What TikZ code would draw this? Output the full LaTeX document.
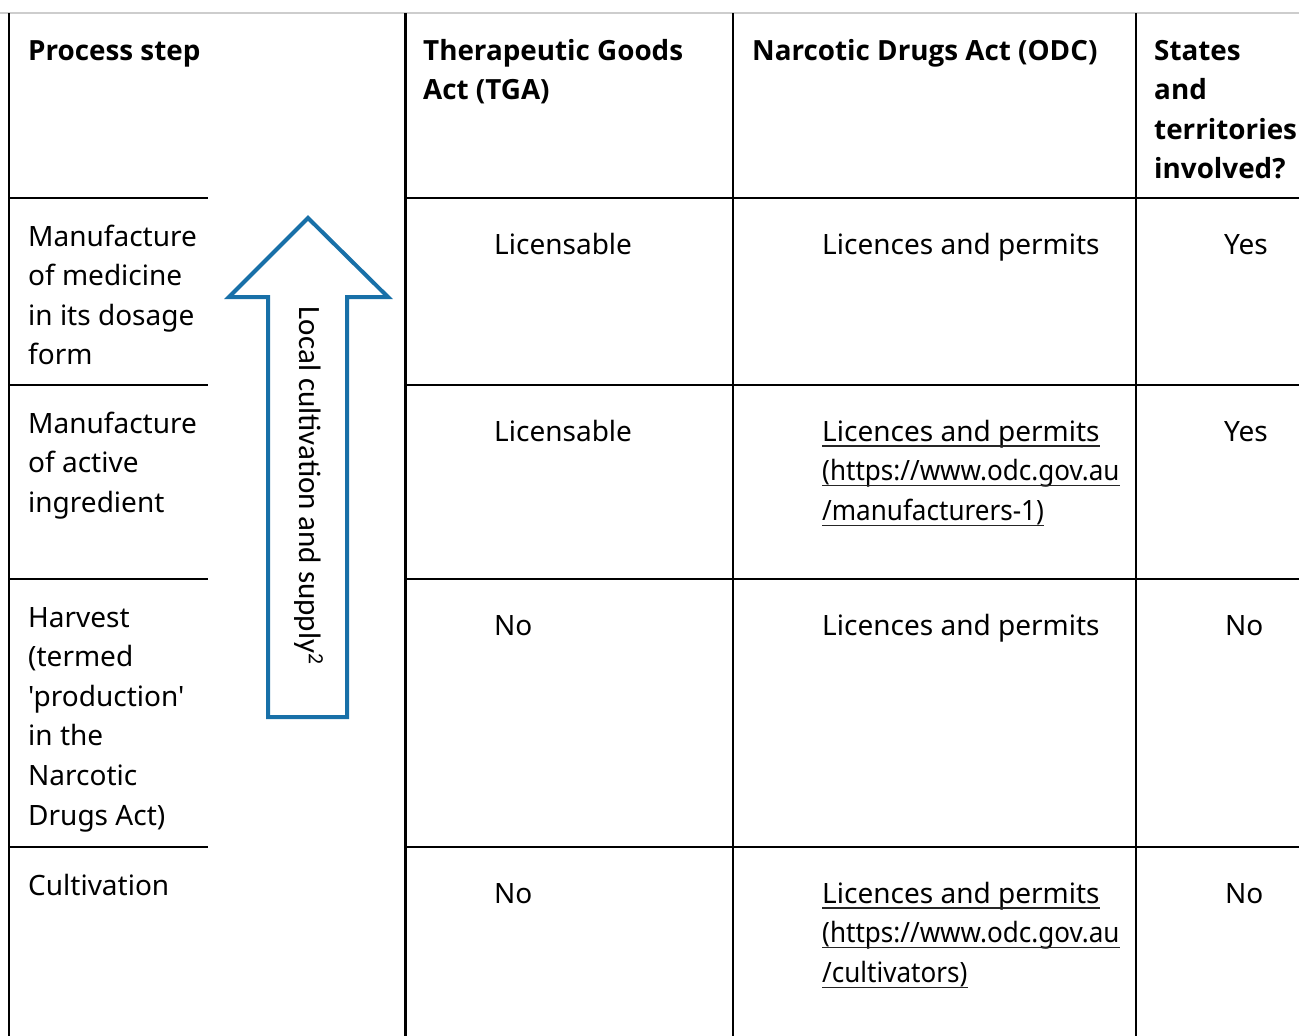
\documentclass[tikz,border=0pt]{standalone}
\usepackage{fontspec}
\setmainfont{Noto Sans}[Ligatures=TeXOff]
\newfontfamily\hdrfont{Open Sans}
\newfontfamily\arrowfont{Carlito}
\definecolor{arrowblue}{RGB}{24,112,168}
\definecolor{topgrey}{RGB}{205,205,205}
\newcommand{\narrowlink}[1]{\scalebox{0.93}[1]{#1}}
\begin{document}
\begin{tikzpicture}[x=1pt,y=-1pt,
  txt/.style={anchor=base west, inner sep=0pt, font=\fontsize{28}{39.6}\selectfont},
  hdr/.style={anchor=base west, inner sep=0pt, font=\hdrfont\fontsize{27.8}{39.6}\selectfont\bfseries},
  grid/.style={line width=2pt, black},
  thick grid/.style={line width=3pt, black},
  ul/.style={line width=1.3pt, black!85},
  arrowshape/.style={draw=arrowblue, line width=4pt, line join=miter, fill=white}]
\useasboundingbox (0,0) rectangle (1299,1036);
% frame
\coordinate (tl) at (0,13); \coordinate (tr) at (1299,13);
\draw[topgrey, line width=1.5pt] (tl) -- (tr);
\draw[grid, line width=2.5pt] (9,13) -- (9,1036);
\draw[thick grid] (405,13) -- (405,1036);
\draw[grid] (733,13) -- (733,1036);
\draw[grid] (1136,13) -- (1136,1036);
\foreach \yy in {198,385,579,847} {
  \draw[grid] (9,\yy) -- (208,\yy);
  \draw[grid] (405,\yy) -- (1299,\yy);
}
% headers
\node[hdr] (hps) at (28,60) {Process step};
\node[hdr] (htga1) at (423,60) {Therapeutic Goods};
\node[hdr] (htga2) at (423,99.6) {Act (TGA)};
\node[hdr] (hodc) at (752,60) {Narcotic Drugs Act (ODC)};
\foreach \t [count=\i from 0] in {{States},{and},{territories},{involved?}}
  \node[hdr] (hst\i) at (1154,60+39.6*\i) {\t};
% left column
\foreach \t [count=\i from 0] in {{Manufacture},{of medicine},{in its dosage},{form}}
  \node[txt] (pa\i) at (28,246+39.6*\i) {\t};
\foreach \t [count=\i from 0] in {{Manufacture},{of active},{ingredient}}
  \node[txt] (pb\i) at (28,433+39.6*\i) {\t};
\foreach \t [count=\i from 0] in {{Harvest},{(termed},{'production'},{in the},{Narcotic},{Drugs Act)}}
  \node[txt] (pc\i) at (28,627+39.6*\i) {\t};
\node[txt] (pd0) at (28,895) {Cultivation};
% TGA column
\node[txt] (ta) at (494,254) {Licensable};
\node[txt] (tb) at (494,441) {Licensable};
\node[txt] (tc) at (494,635) {No};
\node[txt] (td) at (494,903) {No};
% ODC column
\node[txt] (oa) at (822,254) {Licences and permits};
\foreach \t [count=\i from 0] in {{Licences and permits},{\narrowlink{(https://www.odc.gov.au}},{\narrowlink{/manufacturers-1)}}} {
  \node[txt] (ob\i) at (822,441+39.6*\i) {\t};
  \draw[ul] ([yshift=-5pt]ob\i.base west) -- ([yshift=-5pt]ob\i.base east);
}
\node[txt] (oc) at (822,635) {Licences and permits};
\foreach \t [count=\i from 0] in {{Licences and permits},{\narrowlink{(https://www.odc.gov.au}},{\narrowlink{/cultivators)}}} {
  \node[txt] (od\i) at (822,903+39.6*\i) {\t};
  \draw[ul] ([yshift=-5pt]od\i.base west) -- ([yshift=-5pt]od\i.base east);
}
% States column
\node[txt] (sa) at (1224,254) {Yes};
\node[txt] (sb) at (1224,441) {Yes};
\node[txt] (sc) at (1225,635) {No};
\node[txt] (sd) at (1225,903) {No};
% arrow
\draw[arrowshape] (308,218) -- (388,297) -- (347,297) -- (347,717) -- (268,717) -- (268,297) -- (229,297) -- cycle;
\node[rotate=-90, inner sep=0pt, font=\arrowfont\fontsize{31}{34}\selectfont, text=black] (arrtxt) at (309,486) {Local cultivation and supply\textsuperscript{2}};
\end{tikzpicture}
\end{document}
